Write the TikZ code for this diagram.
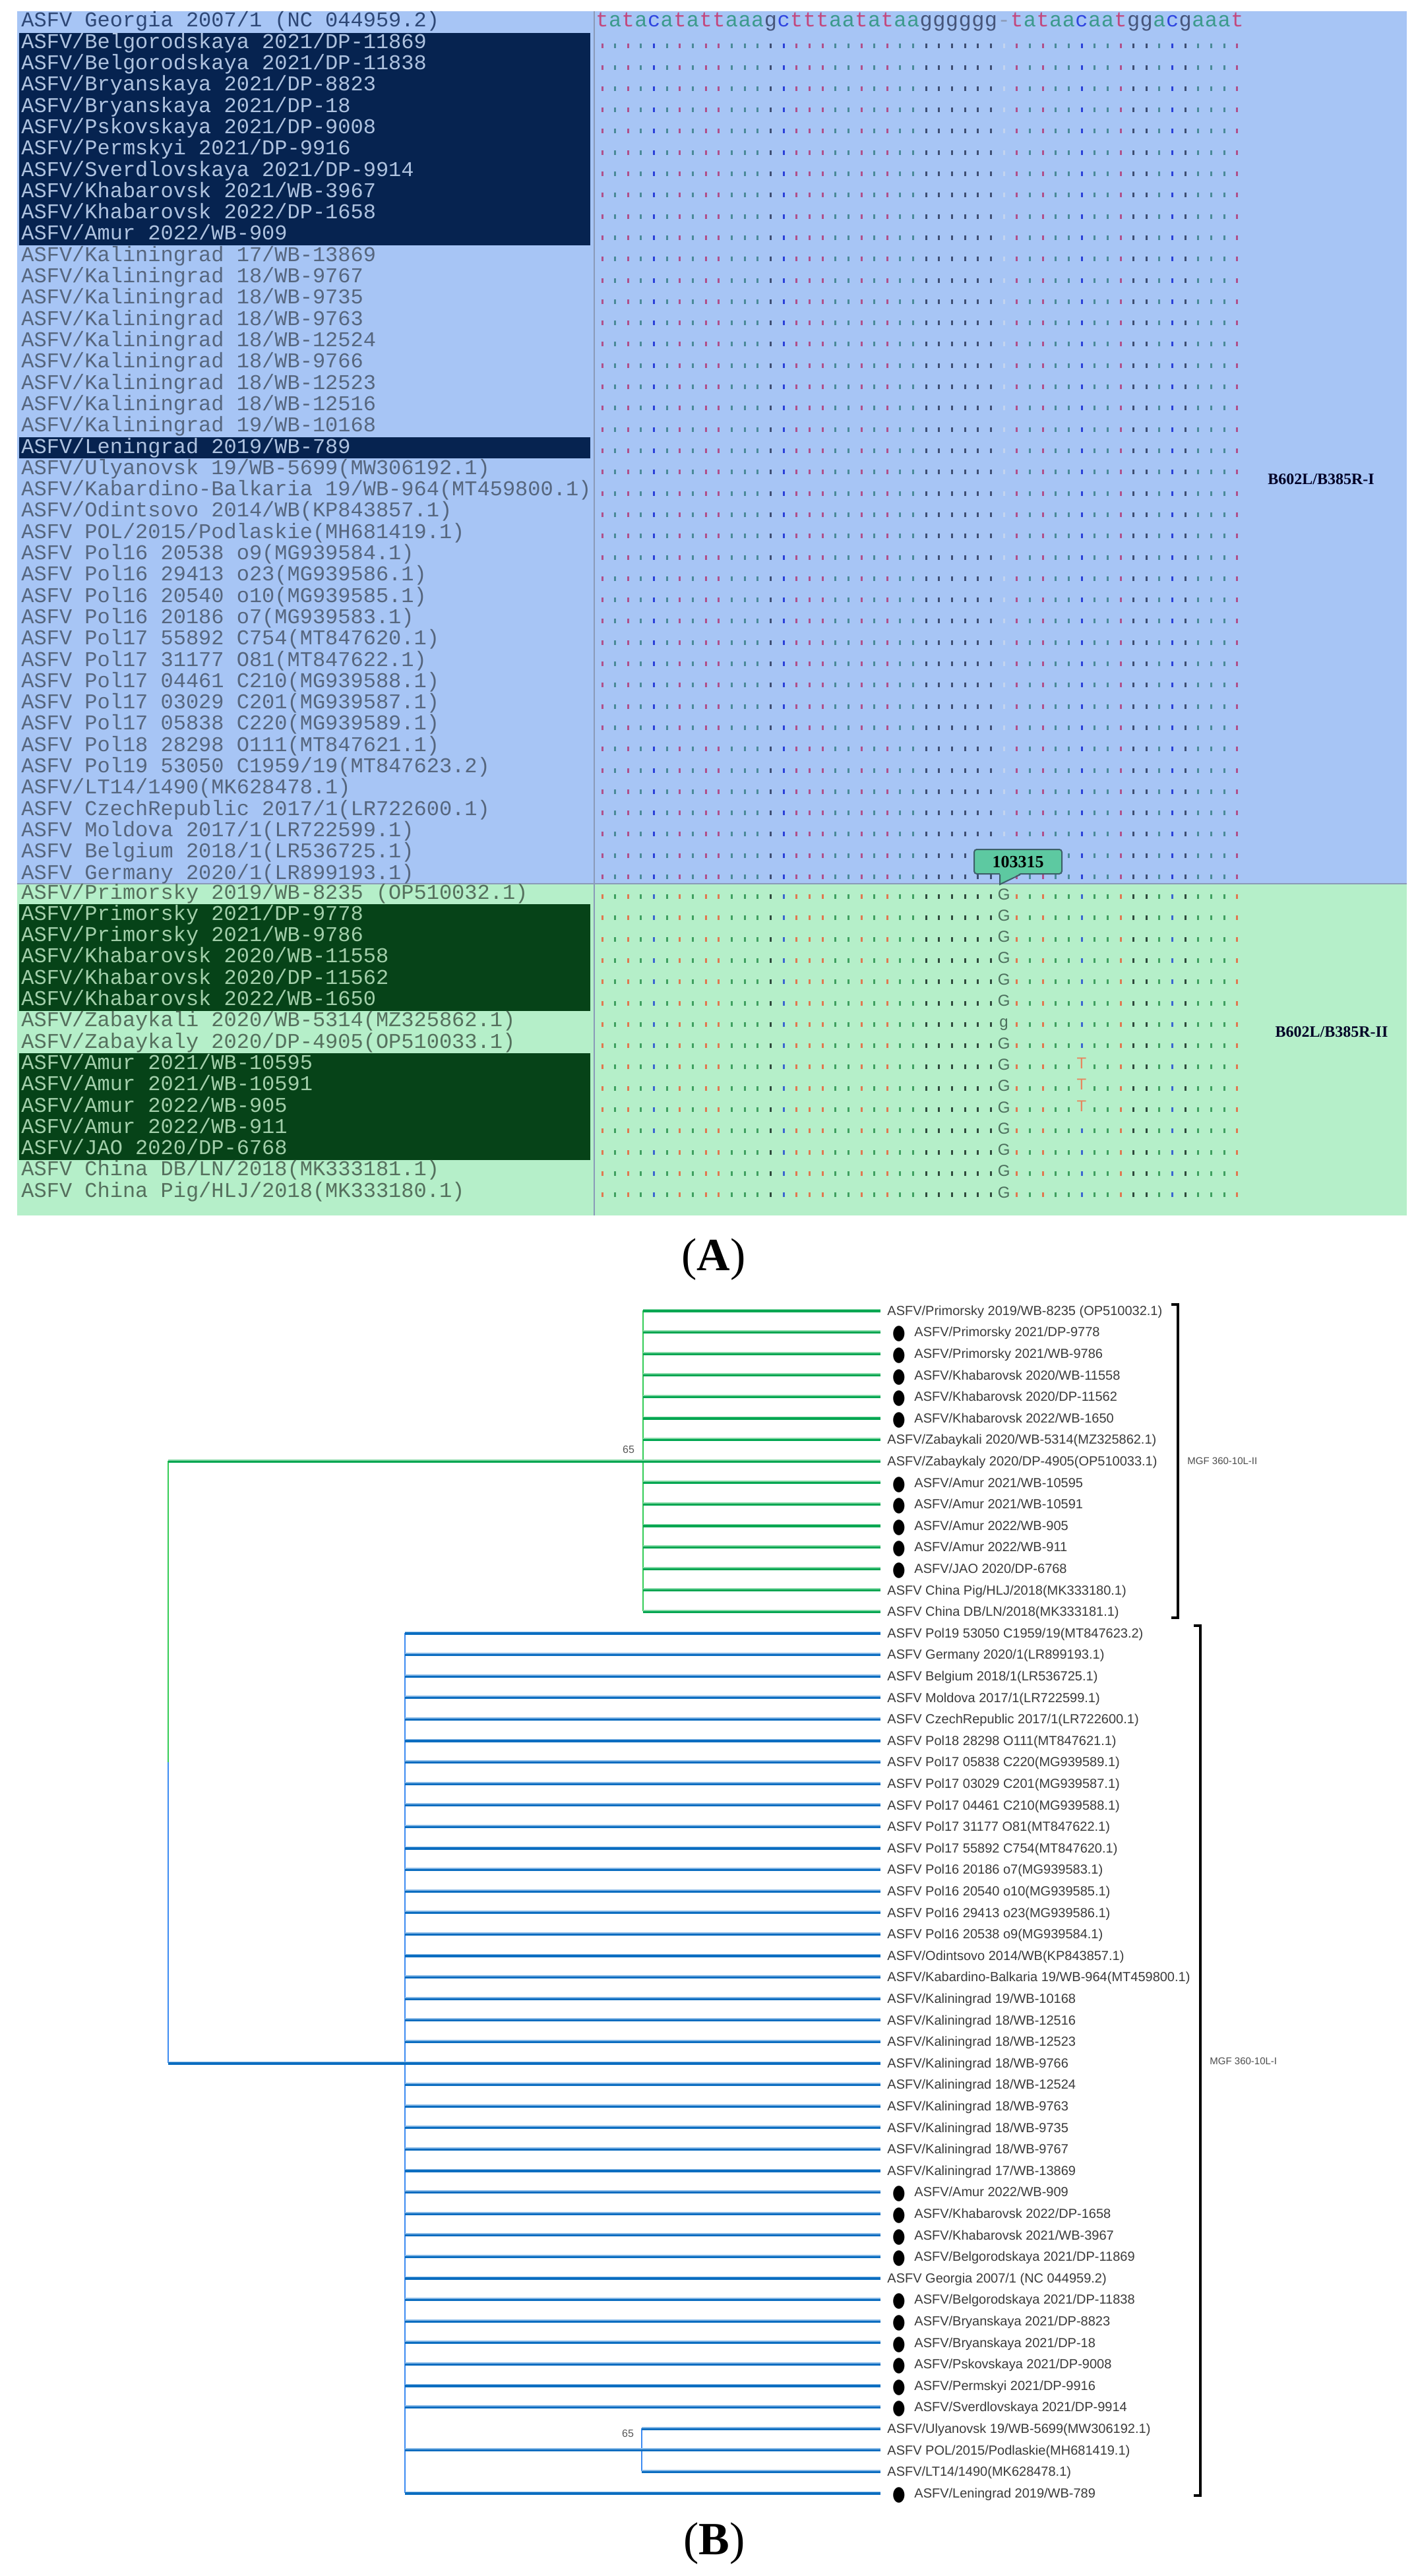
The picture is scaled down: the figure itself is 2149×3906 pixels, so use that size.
\documentclass[tikz,border=0pt]{standalone}
\usepackage{fontspec}
\usepackage{graphicx}
\setmainfont{Liberation Serif}
\setsansfont{Liberation Sans}
\setmonofont{Liberation Mono}
\newfontfamily\dotfont{DejaVu Sans}
\usetikzlibrary{calc}

% alignment colours
\definecolor{paneli}{HTML}{A7C5F5}
\definecolor{panelii}{HTML}{B5EFC9}
\definecolor{hli}{HTML}{062350}
\definecolor{hlii}{HTML}{064318}
\definecolor{txti}{HTML}{56667E}
\definecolor{txtii}{HTML}{55705D}
\definecolor{hltxti}{HTML}{AFC3E0}
\definecolor{hltxtii}{HTML}{A2CFAA}
\definecolor{reftxt}{HTML}{2E4775}
\definecolor{sepline}{HTML}{8A9AB8}
\definecolor{hdt}{HTML}{C2487E}
\definecolor{hda}{HTML}{3C9A8C}
\definecolor{hdc}{HTML}{2F45E0}
\definecolor{hdg}{HTML}{46557A}
\definecolor{hdn}{HTML}{8C9BB8}
\definecolor{bdt}{HTML}{B0508A}
\definecolor{bda}{HTML}{4A8A98}
\definecolor{bdc}{HTML}{2A40D8}
\definecolor{bdg}{HTML}{3E4E72}
\definecolor{bdn}{HTML}{C3D3EE}
\definecolor{gdt}{HTML}{E07850}
\definecolor{gda}{HTML}{3FA060}
\definecolor{gdc}{HTML}{3A66D0}
\definecolor{gdg}{HTML}{2F4A3C}
\definecolor{gdn}{HTML}{9FD8B4}
\definecolor{mutg}{HTML}{4C6E5C}
\definecolor{mutt}{HTML}{E8845C}
\definecolor{tagfill}{HTML}{5DC9A1}
\definecolor{tagline}{HTML}{3D5F68}
% tree colours
\definecolor{gdark}{HTML}{00A651}
\definecolor{glight}{HTML}{86D9A6}
\definecolor{gvert}{HTML}{33CC55}
\definecolor{bdark}{HTML}{0B6DC0}
\definecolor{blight}{HTML}{86B8E6}
\definecolor{bvert}{HTML}{3C8BF2}
\definecolor{leaftxt}{HTML}{3A3A3A}

\def\seqlist{t,a,t,a,c,a,t,a,t,t,a,a,a,g,c,t,t,t,a,a,t,a,t,a,a,g,g,g,g,g,g,n,t,a,t,a,a,c,a,a,t,g,g,a,c,g,a,a,a,t}
\expandafter\def\csname bsymt\endcsname{t}
\expandafter\def\csname bsyma\endcsname{a}
\expandafter\def\csname bsymc\endcsname{c}
\expandafter\def\csname bsymg\endcsname{g}
\expandafter\def\csname bsymn\endcsname{-}
\newcommand\tipmark{\makebox[20.5pt][l]{\hspace*{4pt}\raisebox{-2pt}{\scalebox{0.8}[1.1]{\dotfont\fontsize{14pt}{14pt}\selectfont\color{black}●}}}}

\tikzset{
  nm/.style={anchor=west, inner sep=0, text height=11pt, text depth=3pt,
    font=\ttfamily\fontsize{16pt}{16pt}\selectfont},
  hd/.style={inner sep=0, text height=11pt, text depth=3pt,
    font=\ttfamily\fontsize{16pt}{16pt}\selectfont},
  mut/.style={inner sep=0, text height=9pt, text depth=0pt,
    font=\sffamily\fontsize{12pt}{12pt}\selectfont},
  grp/.style={inner sep=0, text=black!85!blue,
    font=\rmfamily\bfseries\fontsize{12pt}{12pt}\selectfont},
  tag/.style={draw=tagline, fill=tagfill, line width=1pt, rounded corners=2pt,
    minimum width=66.5pt, minimum height=18.5pt, inner sep=0,
    font=\rmfamily\bfseries\fontsize{13pt}{13pt}\selectfont},
  leaf/.style={anchor=west, inner sep=0, text height=7.2pt, text depth=0pt,
    text=leaftxt, font=\sffamily\fontsize{10pt}{10pt}\selectfont},
  boot/.style={inner sep=0, text=black!65, font=\sffamily\fontsize{8pt}{8pt}\selectfont},
  clade/.style={anchor=west, inner sep=0, text=black!70,
    font=\sffamily\fontsize{7.5pt}{7.5pt}\selectfont},
  gbr/.style={draw=gdark, line width=2.5pt},
  gbrhi/.style={draw=glight, line width=0.9pt, transform canvas={yshift=0.8pt}},
  bbr/.style={draw=bdark, line width=2.5pt},
  bbrhi/.style={draw=blight, line width=0.9pt, transform canvas={yshift=0.8pt}},
  gvl/.style={draw=gvert, line width=1.2pt},
  bvl/.style={draw=bvert, line width=1.2pt},
  brk/.style={draw=black, line width=2pt},
  panel/.style={inner sep=0, font=\rmfamily\fontsize{35pt}{35pt}\selectfont}
}

\begin{document}
\begin{tikzpicture}[x=0.5pt, y=-0.5pt]
\fill[white] (0,0) rectangle (2149,3906);
\useasboundingbox (0,0) rectangle (2149,3906);

% (A) alignment
\fill[paneli] (26,17) rectangle (2133,1340);
\fill[panelii] (26,1340) rectangle (2133,1843);
\fill[hli] (29,50) rectangle (895,372);
\fill[hli] (29,663) rectangle (895,695);
\fill[hlii] (29,1371) rectangle (895,1533);
\fill[hlii] (29,1597) rectangle (895,1759);
\draw[sepline, line width=1pt] (901,17) -- (901,1843);
\draw[sepline, line width=1pt] (26,1340) -- (2133,1340);

\foreach \n [count=\i] in {ASFV Georgia 2007/1 (NC 044959.2),
  ASFV/Belgorodskaya 2021/DP-11869, ASFV/Belgorodskaya 2021/DP-11838,
  ASFV/Bryanskaya 2021/DP-8823, ASFV/Bryanskaya 2021/DP-18,
  ASFV/Pskovskaya 2021/DP-9008, ASFV/Permskyi 2021/DP-9916,
  ASFV/Sverdlovskaya 2021/DP-9914, ASFV/Khabarovsk 2021/WB-3967,
  ASFV/Khabarovsk 2022/DP-1658, ASFV/Amur 2022/WB-909,
  ASFV/Kaliningrad 17/WB-13869, ASFV/Kaliningrad 18/WB-9767,
  ASFV/Kaliningrad 18/WB-9735, ASFV/Kaliningrad 18/WB-9763,
  ASFV/Kaliningrad 18/WB-12524, ASFV/Kaliningrad 18/WB-9766,
  ASFV/Kaliningrad 18/WB-12523, ASFV/Kaliningrad 18/WB-12516,
  ASFV/Kaliningrad 19/WB-10168, ASFV/Leningrad 2019/WB-789,
  ASFV/Ulyanovsk 19/WB-5699(MW306192.1),
  ASFV/Kabardino-Balkaria 19/WB-964(MT459800.1),
  ASFV/Odintsovo 2014/WB(KP843857.1), ASFV POL/2015/Podlaskie(MH681419.1),
  ASFV Pol16 20538 o9(MG939584.1), ASFV Pol16 29413 o23(MG939586.1),
  ASFV Pol16 20540 o10(MG939585.1), ASFV Pol16 20186 o7(MG939583.1),
  ASFV Pol17 55892 C754(MT847620.1), ASFV Pol17 31177 O81(MT847622.1),
  ASFV Pol17 04461 C210(MG939588.1), ASFV Pol17 03029 C201(MG939587.1),
  ASFV Pol17 05838 C220(MG939589.1), ASFV Pol18 28298 O111(MT847621.1),
  ASFV Pol19 53050 C1959/19(MT847623.2), ASFV/LT14/1490(MK628478.1),
  ASFV CzechRepublic 2017/1(LR722600.1), ASFV Moldova 2017/1(LR722599.1),
  ASFV Belgium 2018/1(LR536725.1), ASFV Germany 2020/1(LR899193.1)} {
  \def\rowcol{txti}
  \ifnum\i=1 \def\rowcol{reftxt}\fi
  \ifnum\i>1 \ifnum\i<12 \def\rowcol{hltxti}\fi\fi
  \ifnum\i=21 \def\rowcol{hltxti}\fi
  \node[nm, text=\rowcol] (ni\i) at (32,{33+32.3*(\i-1)}) {\n};
}
\foreach \n [count=\j] in {ASFV/Primorsky 2019/WB-8235 (OP510032.1),
  ASFV/Primorsky 2021/DP-9778, ASFV/Primorsky 2021/WB-9786,
  ASFV/Khabarovsk 2020/WB-11558, ASFV/Khabarovsk 2020/DP-11562,
  ASFV/Khabarovsk 2022/WB-1650, ASFV/Zabaykali 2020/WB-5314(MZ325862.1),
  ASFV/Zabaykaly 2020/DP-4905(OP510033.1), ASFV/Amur 2021/WB-10595,
  ASFV/Amur 2021/WB-10591, ASFV/Amur 2022/WB-905, ASFV/Amur 2022/WB-911,
  ASFV/JAO 2020/DP-6768, ASFV China DB/LN/2018(MK333181.1),
  ASFV China Pig/HLJ/2018(MK333180.1)} {
  \def\rowcol{txtii}
  \ifnum\j>1 \ifnum\j<7 \def\rowcol{hltxtii}\fi\fi
  \ifnum\j>8 \ifnum\j<14 \def\rowcol{hltxtii}\fi\fi
  \node[nm, text=\rowcol] (nii\j) at (32,{1355+32.3*(\j-1)}) {\n};
}

% reference sequence and identity dots
\foreach \b [count=\k from 0] in \seqlist
  \node[hd, text=hd\b] (s\k) at ({913+19.65*\k},33) {\csname bsym\b\endcsname};
\foreach \i in {2,...,41}
  \foreach \b [count=\k from 0] in \seqlist
    \fill[fill=bd\b] ({911.5+19.65*\k},{34+32.3*(\i-1)}) rectangle ++(3,7);
\foreach \j in {1,...,15}{
  \def\skipk{31}
  \ifnum\j>8 \ifnum\j<12 \def\skipk{37}\fi\fi
  \foreach \b [count=\k from 0] in \seqlist{
    \ifnum\k=31 \else\ifnum\k=\skipk\else
      \fill[fill=gd\b] ({911.5+19.65*\k},{1356+32.3*(\j-1)}) rectangle ++(3,7);
    \fi\fi
  }
}
\foreach \g [count=\j] in {G,G,G,G,G,G,g,G,G,G,G,G,G,G,G}
  \node[mut, text=mutg] (m\j) at ({913+19.65*31},{1355+32.3*(\j-1)}) {\g};
\foreach \j in {9,10,11}
  \node[mut, text=mutt] (t\j) at ({913+19.65*37},{1353+32.3*(\j-1)}) {T};

\node[tag] (tag) at (1543.5,1306.5) {103315};
\coordinate (tagtip) at (1516,1341);
\fill[tagfill] ($(tag.south)+(-27.5,-2)$) -- (tagtip) -- ($(tag.south)+(3.5,-2)$) -- cycle;
\draw[tagline, line width=1pt] ($(tag.south)+(-27.5,0)$) -- (tagtip) -- ($(tag.south)+(3.5,0)$);

\node[grp] (gi) at (2003,727) {B602L/B385R-I};
\node[grp] (gii) at (2019,1565) {B602L/B385R-II};
\node[panel] (pa) at (1082,1910) {(\textbf{A})};

% (B) tree
\foreach \n [count=\k] in {ASFV/Primorsky 2019/WB-8235 (OP510032.1),
  \tipmark ASFV/Primorsky 2021/DP-9778, \tipmark ASFV/Primorsky 2021/WB-9786,
  \tipmark ASFV/Khabarovsk 2020/WB-11558, \tipmark ASFV/Khabarovsk 2020/DP-11562,
  \tipmark ASFV/Khabarovsk 2022/WB-1650, ASFV/Zabaykali 2020/WB-5314(MZ325862.1),
  ASFV/Zabaykaly 2020/DP-4905(OP510033.1), \tipmark ASFV/Amur 2021/WB-10595,
  \tipmark ASFV/Amur 2021/WB-10591, \tipmark ASFV/Amur 2022/WB-905,
  \tipmark ASFV/Amur 2022/WB-911, \tipmark ASFV/JAO 2020/DP-6768,
  ASFV China Pig/HLJ/2018(MK333180.1), ASFV China DB/LN/2018(MK333181.1)}
  \node[leaf] (tg\k) at (1345,{1987+32.6*(\k-1)}) {\n};
\foreach \n [count=\k] in {ASFV Pol19 53050 C1959/19(MT847623.2),
  ASFV Germany 2020/1(LR899193.1), ASFV Belgium 2018/1(LR536725.1),
  ASFV Moldova 2017/1(LR722599.1), ASFV CzechRepublic 2017/1(LR722600.1),
  ASFV Pol18 28298 O111(MT847621.1), ASFV Pol17 05838 C220(MG939589.1),
  ASFV Pol17 03029 C201(MG939587.1), ASFV Pol17 04461 C210(MG939588.1),
  ASFV Pol17 31177 O81(MT847622.1), ASFV Pol17 55892 C754(MT847620.1),
  ASFV Pol16 20186 o7(MG939583.1), ASFV Pol16 20540 o10(MG939585.1),
  ASFV Pol16 29413 o23(MG939586.1), ASFV Pol16 20538 o9(MG939584.1),
  ASFV/Odintsovo 2014/WB(KP843857.1),
  ASFV/Kabardino-Balkaria 19/WB-964(MT459800.1),
  ASFV/Kaliningrad 19/WB-10168, ASFV/Kaliningrad 18/WB-12516,
  ASFV/Kaliningrad 18/WB-12523, ASFV/Kaliningrad 18/WB-9766,
  ASFV/Kaliningrad 18/WB-12524, ASFV/Kaliningrad 18/WB-9763,
  ASFV/Kaliningrad 18/WB-9735, ASFV/Kaliningrad 18/WB-9767,
  ASFV/Kaliningrad 17/WB-13869, \tipmark ASFV/Amur 2022/WB-909,
  \tipmark ASFV/Khabarovsk 2022/DP-1658, \tipmark ASFV/Khabarovsk 2021/WB-3967,
  \tipmark ASFV/Belgorodskaya 2021/DP-11869, ASFV Georgia 2007/1 (NC 044959.2),
  \tipmark ASFV/Belgorodskaya 2021/DP-11838, \tipmark ASFV/Bryanskaya 2021/DP-8823,
  \tipmark ASFV/Bryanskaya 2021/DP-18, \tipmark ASFV/Pskovskaya 2021/DP-9008,
  \tipmark ASFV/Permskyi 2021/DP-9916, \tipmark ASFV/Sverdlovskaya 2021/DP-9914,
  ASFV/Ulyanovsk 19/WB-5699(MW306192.1), ASFV POL/2015/Podlaskie(MH681419.1),
  ASFV/LT14/1490(MK628478.1), \tipmark ASFV/Leningrad 2019/WB-789}
  \node[leaf] (tb\k) at (1345,{2476+32.6*(\k-1)}) {\n};

\coordinate (gj) at (975,2215.2);
\coordinate (bj) at (614,3128);
\coordinate (sj) at (973,3714.8);
\coordinate (rg) at (255,2215.2);
\coordinate (rm) at (255,2671.6);
\coordinate (rb) at (255,3128);

\draw[gvl] (rm) -- (rg);
\draw[bvl] (rm) -- (rb);
\draw[gvl] (gj |- tg1.west) -- (gj |- tg15.west);
\draw[bvl] (bj |- tb1.west) -- (bj |- tb41.west);
\draw[bvl] (sj |- tb38.west) -- (sj |- tb40.west);
\draw[gbr] (rg) -- (gj);
\draw[gbrhi] (rg) -- (gj);
\draw[bbr] (rb) -- (bj);
\draw[bbrhi] (rb) -- (bj);
\foreach \k in {1,...,15}{
  \draw[gbr] (gj |- tg\k.west) -- ([xshift=-5pt]tg\k.west);
  \draw[gbrhi] (gj |- tg\k.west) -- ([xshift=-5pt]tg\k.west);
}
\foreach \k in {1,...,37,39,41}{
  \draw[bbr] (bj |- tb\k.west) -- ([xshift=-5pt]tb\k.west);
  \draw[bbrhi] (bj |- tb\k.west) -- ([xshift=-5pt]tb\k.west);
}
\foreach \k in {38,40}{
  \draw[bbr] (sj |- tb\k.west) -- ([xshift=-5pt]tb\k.west);
  \draw[bbrhi] (sj |- tb\k.west) -- ([xshift=-5pt]tb\k.west);
}

\node[boot] (bsg) at (953,2198) {65};
\node[boot] (bsb) at (952,3690) {65};
\draw[brk] (1776,1978) -- (1786,1978) -- (1786,2453) -- (1776,2453);
\draw[brk] (1810,2465) -- (1820,2465) -- (1820,3784) -- (1810,3784);
\node[clade] (mgfii) at (1800,2215) {MGF 360-10L-II};
\node[clade] (mgfi) at (1834,3125) {MGF 360-10L-I};
\node[panel] (pb) at (1083,3857) {(\textbf{B})};
\end{tikzpicture}
\end{document}
